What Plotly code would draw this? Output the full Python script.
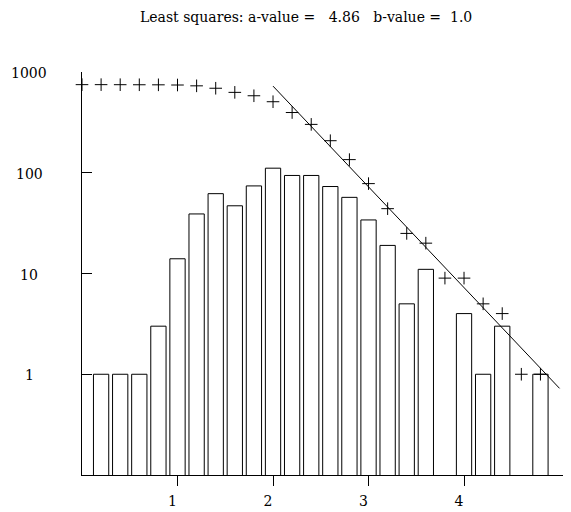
import math
import plotly.graph_objects as go

# Magnitude bins (bar centres) and number of events in each bin
bin_m = [0.2, 0.4, 0.6, 0.8, 1.0, 1.2, 1.4, 1.6, 1.8, 2.0, 2.2, 2.4,
         2.6, 2.8, 3.0, 3.2, 3.4, 3.6, 3.8, 4.0, 4.2, 4.4, 4.6, 4.8]
counts = [1, 1, 1, 3, 14, 39, 62, 47, 74, 111, 94, 94,
          73, 57, 34, 19, 5, 11, 0, 4, 1, 3, 0, 1]

# Cumulative number of events with magnitude >= m
cum_m = [0.0, 0.2, 0.4, 0.6, 0.8, 1.0, 1.2, 1.4, 1.6, 1.8, 2.0, 2.2, 2.4,
         2.6, 2.8, 3.0, 3.2, 3.4, 3.6, 3.8, 4.0, 4.2, 4.4, 4.6, 4.8]
cum_n = [749, 749, 748, 747, 746, 743, 729, 690, 628, 581, 507, 396, 302,
         208, 135, 78, 44, 25, 20, 9, 9, 5, 4, 1, 1]

# Least squares fit line end points (log N = 4.86 - 1.0 M)
fit_m = [2.0, 5.0]
fit_n = [724.4, 0.7244]

title_text = "Least squares: a-value =   4.86   b-value =  1.0"
x_ticks = [1, 2, 3, 4]
y_ticks = [1, 10, 100, 1000]
y_labels = ["1", "10", "100", "1000"]

font = "DejaVu Serif"

# the page body has an 8px margin, so the figure is sized to fit what is left
W, H = 563, 504
L, T, B = 74, 64, 37
plot_w = W - L
plot_h = H - T - B

# drop empty bins (nothing to draw on a log axis)
bar_m = [m for m, c in zip(bin_m, counts) if c > 0]
bar_c = [c for c in counts if c > 0]

fig = go.Figure()
fig.add_trace(go.Bar(x=bar_m, y=bar_c, width=0.16,
                     marker=dict(color="white", line=dict(color="black", width=1))))
fig.add_trace(go.Scatter(x=fit_m, y=fit_n, mode="lines",
                         line=dict(color="black", width=1)))
fig.add_trace(go.Scatter(x=cum_m, y=cum_n, mode="markers", cliponaxis=False,
                         marker=dict(symbol="cross-thin", size=9,
                                     line=dict(color="black", width=1))))

fig.update_layout(
    width=W, height=H,
    margin=dict(l=L, r=0, t=T, b=B, pad=0),
    plot_bgcolor="white", paper_bgcolor="white",
    showlegend=False,
    font=dict(family=font, size=14, color="black"),
)
fig.update_xaxes(range=[0, 5.12], showgrid=False, zeroline=False,
                 showline=True, linecolor="black", linewidth=1,
                 tickvals=x_ticks, ticks="outside", ticklen=10,
                 tickcolor="black", tickwidth=1,
                 ticklabelshift=-5, ticklabelstandoff=3)
fig.update_yaxes(type="log", range=[-1, 3], showgrid=False, zeroline=False,
                 showline=True, linecolor="black", linewidth=1,
                 tickvals=y_ticks, ticks="inside", ticklen=10,
                 tickcolor="black", tickwidth=1, showticklabels=False)

for v, lab in zip(y_ticks, y_labels):
    fig.add_annotation(text=lab, xref="paper", yref="y",
                       x=(21 - L) / plot_w, y=math.log10(v),
                       xanchor="center", yanchor="middle", yshift=-1,
                       showarrow=False, font=dict(family=font, size=14))

fig.add_annotation(text=title_text, xref="paper", yref="paper",
                   x=(298 - L) / plot_w, y=1 + (T - 9) / plot_h,
                   xanchor="center", yanchor="middle", showarrow=False,
                   font=dict(family=font, size=14))

fig.write_html("out.html")
